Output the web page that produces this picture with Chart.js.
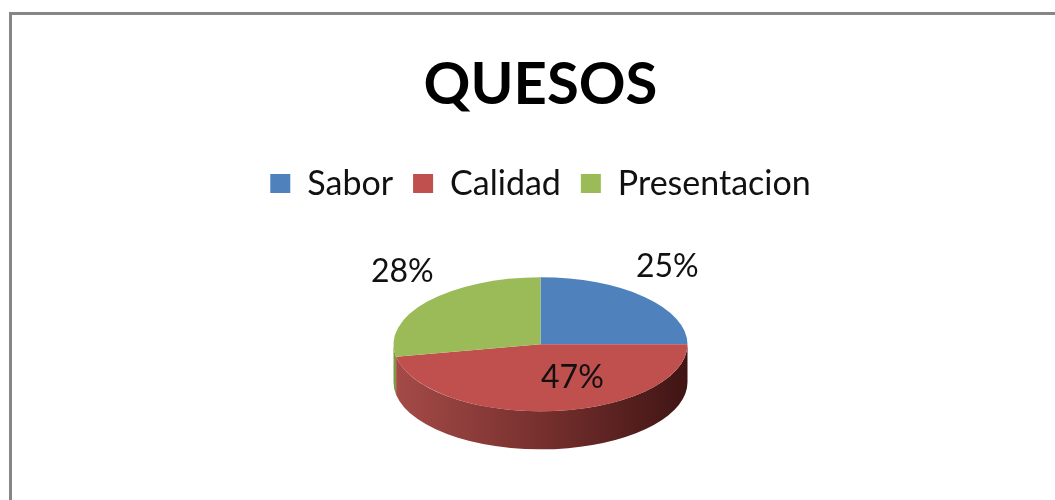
<!DOCTYPE html>
<html>
<head>
<meta charset="utf-8">
<script src="https://cdn.jsdelivr.net/npm/chart.js@4.4.1/dist/chart.umd.min.js"></script>
<style>
  html, body { margin: 0; padding: 0; background: #fff; }
  #frame {
    position: absolute; left: 9px; top: 12px; right: 0; bottom: 0;
    border-top: 3px solid #868686; border-left: 3px solid #868686;
  }
  #c { position: absolute; left: 0; top: 0; }
</style>
</head>
<body>
<div id="frame"></div>
<canvas id="c" width="1055" height="500"></canvas>
<script>
// datos del gráfico
const categories = ['Sabor', 'Calidad', 'Presentacion'];
const shares = [25, 47, 28];
const sliceColors = ['#4F81BD', '#C0504D', '#9BBB59'];
const sideColors = [
    ['#3b6391', '#2a4a6d', '#1c3350'],
    ['#a54b48', '#77302e', '#3f1514'],
    ['#7d9a45', '#5c7432', '#3d4f20']
];
const FONT = 'Lato, "Open Sans", sans-serif';

const tilt = 0.456;   // alto / ancho de la elipse
const depth = 38;     // grosor del pastel en px

// pastel "3D": aplasta el círculo y dibuja la pared frontal
const pie3d = {
    id: 'pie3d',
    beforeDatasetsDraw(chart) {
        const ctx = chart.ctx;
        const arcs = chart.getDatasetMeta(0).data;
        if (!arcs.length) return;
        const { x, y, outerRadius: r } = arcs[0];
        ctx.save();
        ctx.translate(x, y);
        ctx.scale(1, tilt);
        arcs.forEach((arc, i) => {
            const lo = Math.max(arc.startAngle, 0);
            const hi = Math.min(arc.endAngle, Math.PI);
            if (hi <= lo) return;
            const g = ctx.createLinearGradient(-r, 0, r, 0);
            g.addColorStop(0, sideColors[i][0]);
            g.addColorStop(0.5, sideColors[i][1]);
            g.addColorStop(1, sideColors[i][2]);
            ctx.beginPath();
            ctx.arc(0, 0, r, lo, hi);
            ctx.arc(0, depth / tilt, r, hi, lo, true);
            ctx.closePath();
            ctx.fillStyle = g;
            ctx.fill();
        });
        ctx.restore();
        ctx.save();
        ctx.translate(x, y);
        ctx.scale(1, tilt);
        ctx.translate(-x, -y);
    },
    afterDatasetsDraw(chart) {
        const ctx = chart.ctx;
        ctx.restore();
        const arcs = chart.getDatasetMeta(0).data;
        ctx.save();
        ctx.fillStyle = '#111';
        ctx.font = '32px ' + FONT;
        ctx.textAlign = 'center';
        ctx.textBaseline = 'middle';
        arcs.forEach((arc, i) => {
            const mid = (arc.startAngle + arc.endAngle) / 2;
            const r = arc.outerRadius;
            const inside = shares[i] > 40;
            let px, py;
            if (inside) {
                px = arc.x + r * 0.5 * Math.cos(mid) + 25;
                py = arc.y + r * tilt * 0.5 * Math.sin(mid);
            } else {
                px = arc.x + r * 1.22 * Math.cos(mid);
                py = arc.y + r * tilt * 1.22 * Math.sin(mid) - 20;
            }
            ctx.fillText(shares[i] + '%', px, py);
        });
        ctx.restore();
    }
};

new Chart(document.getElementById('c').getContext('2d'), {
    type: 'pie',
    data: {
        labels: categories,
        datasets: [{
            data: shares,
            backgroundColor: sliceColors,
            borderWidth: 0,
            radius: 147
        }]
    },
    options: {
        responsive: false,
        animation: false,
        layout: { padding: { left: 26, bottom: 22 } },
        plugins: {
            title: {
                display: true,
                text: 'QUESOS',
                color: '#000',
                font: { family: FONT, size: 58, weight: 'bold' },
                padding: { top: 50, bottom: 27 }
            },
            legend: {
                position: 'top',
                labels: {
                    color: '#111',
                    boxWidth: 20,
                    boxHeight: 19,
                    padding: 20,
                    font: { family: FONT, size: 34 }
                }
            },
            tooltip: { enabled: false }
        }
    },
    plugins: [pie3d]
});
</script>
</body>
</html>
